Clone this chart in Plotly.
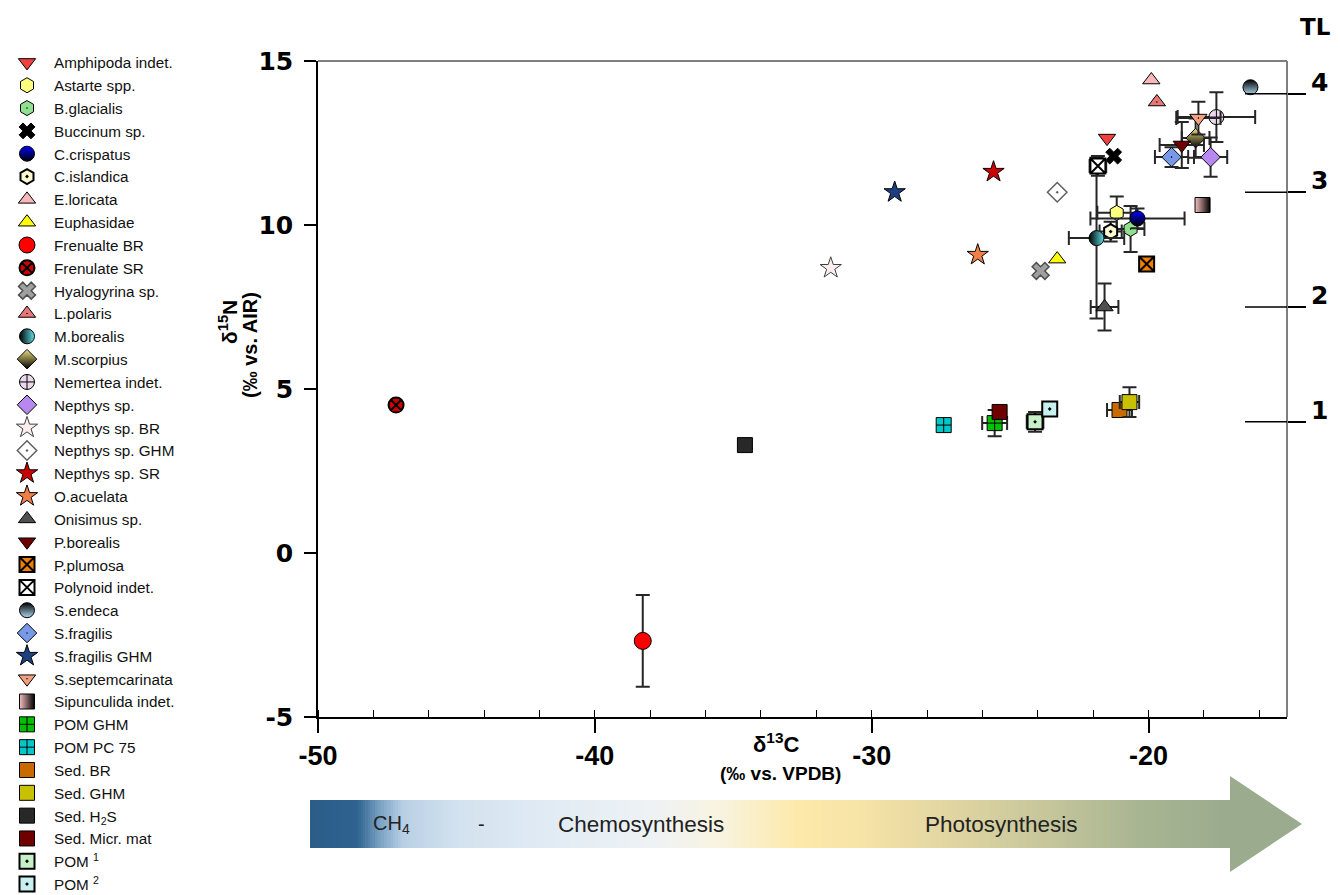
import numpy as np
import plotly.graph_objects as go

# ---------------- data ----------------
names = ["Amphipoda indet.", "Astarte spp.", "B.glacialis", "Buccinum sp.", "C.crispatus",
         "C.islandica", "E.loricata", "Euphasidae", "Frenualte BR", "Frenulate SR",
         "Hyalogyrina sp.", "L.polaris", "M.borealis", "M.scorpius", "Nemertea indet.",
         "Nepthys sp.", "Nepthys sp. BR", "Nepthys sp. GHM", "Nepthys sp. SR", "O.acuelata",
         "Onisimus sp.", "P.borealis", "P.plumosa", "Polynoid indet.", "S.endeca",
         "S.fragilis", "S.fragilis GHM", "S.septemcarinata", "Sipunculida indet.", "POM GHM",
         "POM PC 75", "Sed. BR", "Sed. GHM", "Sed. H<sub>2</sub>S", "Sed. Micr. mat",
         "POM <sup>1</sup>", "POM <sup>2</sup>"]
d13C = [-21.5, -21.15, -20.65, -21.26, -20.4,
        -21.37, -19.9, -23.3, -38.27, -47.18,
        -23.9, -19.7, -21.88, -18.3, -17.55,
        -17.76, -31.48, -23.3, -25.6, -26.17,
        -21.59, -18.8, -20.07, -21.83, -16.32,
        -19.17, -29.17, -18.2, -18.05, -25.56,
        -27.4, -21.05, -20.69, -34.58, -25.38,
        -24.1, -23.57]
d15N = [12.65, 10.37, 9.88, 12.1, 10.2,
        9.8, 14.42, 8.96, -2.68, 4.51,
        8.6, 13.75, 9.6, 12.65, 13.29,
        12.07, 8.69, 11.0, 11.62, 9.09,
        7.5, 12.44, 8.81, 11.8, 14.2,
        12.07, 11.0, 13.26, 10.61, 3.96,
        3.9, 4.36, 4.6, 3.29, 4.3,
        4.0, 4.39]
sd13C = [0, 0.7, 0.5, 0, 1.7,
         0.4, 0, 0, 0, 0,
         0, 0, 1.0, 0.5, 1.4,
         0.6, 0, 0, 0, 0,
         0.5, 0.8, 0, 0.3, 0,
         0.6, 0, 0.8, 0, 0.45,
         0, 0.45, 0.35, 0, 0,
         0.3, 0]
sd15N = [0, 0.5, 0.7, 0, 0.3,
         0.3, 0, 0, 1.4, 0,
         0, 0, 2.45, 0.6, 0.76,
         0.6, 0, 0, 0, 0,
         0.72, 0.7, 0, 0.3, 0,
         0.3, 0, 0.5, 0, 0.4,
         0, 0.2, 0.45, 0, 0,
         0.3, 0]

x_tickvals = [-50, -40, -30, -20]
x_ticktext = ["-50", "-40", "-30", "-20"]
y_tickvals = [-5, 0, 5, 10, 15]
y_ticktext = ["-5", "0", "5", "10", "15"]
tl_pos = [4.0, 7.5, 11.0, 14.0]
tl_labels = ["1", "2", "3", "4"]

# ---------------- styles ----------------
symbols = ["triangle-down", "hexagon", "hexagon-dot", "x", "circle",
           "hexagon-dot", "triangle-up", "triangle-up", "circle", "circle-x",
           "x", "triangle-up-dot", "circle", "diamond", "circle-cross",
           "diamond", "star", "diamond-dot", "star", "star",
           "triangle-up", "triangle-down", "square-x", "square-x", "circle",
           "diamond-dot", "star", "triangle-down-dot", "square", "square-cross",
           "square-cross", "square", "square", "square", "square",
           "square-dot", "square-dot"]
fills = ["#f04040", "#ffff80", "#90e090", "#000000", "#0000ff",
         "#fcf8d0", "#f6b8b8", "#ffff00", "#ff0000", "#d00000",
         "#a0a0a0", "#e87878", "#000000", "#f0e080", "#ecd8ec",
         "#b888f0", "#fbeeee", "#ffffff", "#cc0000", "#f08048",
         "#505050", "#700000", "#f08000", "#ffffff", "#000000",
         "#7898e8", "#1c4080", "#f4a080", "#f8c0c0", "#00c000",
         "#00c8c8", "#c86a00", "#c8c000", "#282828", "#6e0000",
         "#c8f0c8", "#c8f0f0"]
grads = {4: ("vertical", "#000000"), 12: ("horizontal", "#60e0e8"),
         13: ("vertical", "#000000"), 24: ("vertical", "#b0d8f0"),
         28: ("horizontal", "#000000")}
line_cols = {10: "#505050", 16: "#404040", 17: "#606060"}
line_w = {9: 2, 5: 2, 22: 2, 23: 2, 35: 2, 36: 2, 10: 1.5, 17: 1.5}
sizes = {8: 17, 16: 16, 18: 16, 19: 16, 26: 16, 3: 14, 10: 15}

fig = go.Figure()

# gradient arrow body (decorative)
grad_z = [np.linspace(0, 1, 400)]
arrow_scale = [[0.0, "#2b5d87"], [0.05, "#2f6290"], [0.075, "#7aa2c4"],
               [0.10, "#b9d0e4"], [0.16, "#d3e2ef"], [0.26, "#e1ebf4"],
               [0.37, "#eef2f5"], [0.44, "#f8f4e2"], [0.53, "#fde9a9"],
               [0.60, "#f6e3a6"], [0.69, "#e2d6a2"], [0.80, "#c6c69b"],
               [0.90, "#a8b592"], [1.0, "#9aab8e"]]
fig.add_trace(go.Heatmap(z=grad_z, colorscale=arrow_scale, showscale=False,
                         xaxis="x3", yaxis="y3", hoverinfo="skip", zmin=0, zmax=1))

for i, n in enumerate(names):
    mk = dict(symbol=symbols[i], color=fills[i], size=sizes.get(i, 15),
              line=dict(color=line_cols.get(i, "#000000"), width=line_w.get(i, 1)))
    if i in grads:
        mk["gradient"] = dict(type=grads[i][0], color=grads[i][1])
    ex = sd13C[i]
    ey = sd15N[i]
    fig.add_trace(go.Scatter(
        x=[d13C[i]], y=[d15N[i]], mode="markers", name=n, marker=mk,
        error_x=dict(type="data", array=[ex], visible=ex > 0, color="#262626",
                     thickness=2, width=7),
        error_y=dict(type="data", array=[ey], visible=ey > 0, color="#262626",
                     thickness=2, width=7),
    ))

# invisible trace to keep TL axis drawn
fig.add_trace(go.Scatter(x=[-50], y=[-5], yaxis="y2", mode="markers",
                         marker=dict(opacity=0), showlegend=False, hoverinfo="skip"))

W, H = 1341, 895
px = lambda v: v / W
py = lambda v: 1 - v / H
xd = [px(318), px(1287)]
yd = [py(717), py(61)]

FONT = "Liberation Sans, Arial"
WIDE = "DejaVu Sans, Liberation Sans, Arial"

fig.update_layout(
    width=W, height=H, margin=dict(l=0, r=0, t=0, b=0, autoexpand=False),
    paper_bgcolor="white", plot_bgcolor="white",
    showlegend=True,
    legend=dict(x=0.0, y=py(46), xanchor="left", yanchor="top",
                font=dict(family=FONT, size=15.25, color="#111"),
                itemwidth=44, tracegroupgap=0, bgcolor="rgba(0,0,0,0)",
                borderwidth=0),
    xaxis=dict(domain=xd, range=[-50, -15], tickvals=x_tickvals,
               ticktext=[f"<b>{t}</b>" for t in x_ticktext],
               ticks="outside", ticklen=14, tickwidth=2, tickcolor="black",
               showline=True, linecolor="black", linewidth=1.5, showgrid=False,
               zeroline=False, anchor="y", automargin=False,
               tickfont=dict(family=FONT, size=27, color="black"),
               minor=dict(dtick=2, ticks="inside", ticklen=7, tickcolor="black",
                          tickwidth=1, showgrid=False)),
    yaxis=dict(domain=yd, range=[-5, 15], tickvals=y_tickvals,
               ticktext=[f"<b>{t}</b>" for t in y_ticktext],
               ticks="outside", ticklen=12, tickwidth=1.5, tickcolor="black",
               showline=True, linecolor="black", linewidth=1.5, showgrid=False,
               zeroline=False, anchor="x", automargin=False, ticklabelstandoff=6,
               tickfont=dict(family=WIDE, size=25, color="black")),
    yaxis2=dict(overlaying="y", side="right", anchor="x", range=[-5, 15],
                tickvals=tl_pos, ticktext=[f"<b>{t}</b>" for t in tl_labels],
                ticks="outside", ticklen=18, automargin=False,
                tickwidth=1.5, tickcolor="black", showline=False, showgrid=False,
                zeroline=False, tickfont=dict(family=WIDE, size=25, color="black"),
                ticklabelshift=-12),
    xaxis3=dict(domain=[px(310), px(1232)], anchor="y3", visible=False,
                range=[-0.5, 399.5], fixedrange=True, automargin=False),
    yaxis3=dict(domain=[py(848), py(800)], anchor="x3", visible=False,
                range=[-0.5, 0.5], fixedrange=True, automargin=False),
)

shapes = [
    dict(type="line", xref="paper", yref="paper", x0=xd[0], x1=xd[1], y0=yd[1], y1=yd[1],
         line=dict(color="#7f7f7f", width=2)),
    dict(type="line", xref="paper", yref="paper", x0=xd[1], x1=xd[1], y0=yd[0], y1=yd[1],
         line=dict(color="#7f7f7f", width=2)),
    dict(type="path", xref="paper", yref="paper",
         path=f"M {px(1230)},{py(776)} L {px(1302)},{py(824)} L {px(1230)},{py(872)} Z",
         fillcolor="#9aab8e", line=dict(width=0)),
]
for t in tl_pos:
    shapes.append(dict(type="line", xref="paper", yref="y", x0=px(1245), x1=xd[1],
                       y0=t, y1=t, line=dict(color="black", width=1.5)))
fig.update_layout(shapes=shapes)


def txt(s, x, y, size, bold=False, angle=0, color="black", family=FONT):
    return dict(text=f"<b>{s}</b>" if bold else s, x=px(x), y=py(y), xref="paper",
                yref="paper", showarrow=False, textangle=angle,
                xanchor="center", yanchor="middle",
                font=dict(family=family, size=size, color=color))


ann = [
    txt("TL", 1315, 27, 23, bold=True, family=WIDE),
    txt("δ<sup>15</sup>N", 228, 322, 21, bold=True, angle=-90),
    txt("(‰ vs. AIR)", 250, 345, 20, bold=True, angle=-90),
    txt("δ<sup>13</sup>C", 776, 743, 22, bold=True),
    txt("(‰ vs. VPDB)", 780, 773, 19, bold=True),
    txt("CH<sub>4</sub>", 391, 824, 20, color="#222"),
    txt("-", 481, 824, 20, color="#222"),
    txt("Chemosynthesis", 641, 824, 22.5, color="#222"),
    txt("Photosynthesis", 1001, 824, 22.5, color="#222"),
]
fig.update_layout(annotations=ann)

fig.write_html("out.html", config={"displayModeBar": False},
               post_script="document.body.style.margin='0px';document.body.style.overflow='hidden';")
